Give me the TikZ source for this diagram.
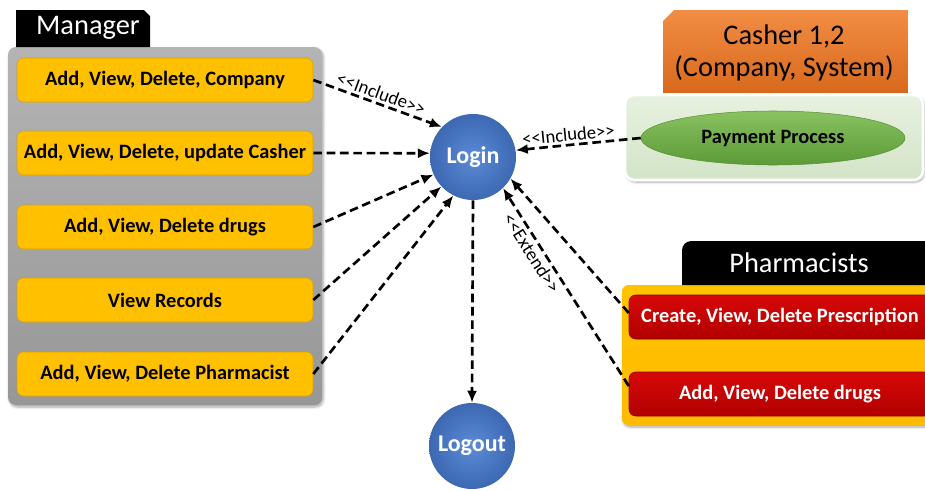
\documentclass[tikz,border=0pt]{standalone}
\usepackage{fontspec}
\setmainfont{Carlito}
% plain family for the stereotype labels, so that << and >> stay as typed
\newfontfamily\stereofont{Carlito}[Ligatures=TeXOff]
\usetikzlibrary{arrows.meta,shadows.blur,shapes.geometric}

\definecolor{panelTop}{HTML}{B4B4B4}
\definecolor{panelBot}{HTML}{979797}
\definecolor{amber}{HTML}{FFC000}
\definecolor{amberEdge}{HTML}{D9A300}
\definecolor{blueIn}{HTML}{5B8BD7}
\definecolor{blueOut}{HTML}{3D68B2}
\definecolor{orangeTop}{HTML}{F18D44}
\definecolor{orangeBot}{HTML}{D8691C}
\definecolor{mintTop}{HTML}{E7F1E0}
\definecolor{mintBot}{HTML}{D3E4C8}
\definecolor{leafTop}{HTML}{8AC260}
\definecolor{leafBot}{HTML}{5C9A38}
\definecolor{leafEdge}{HTML}{5A9236}
\definecolor{redTop}{HTML}{D80808}
\definecolor{redBot}{HTML}{B00000}
\definecolor{redEdge}{HTML}{8C0000}

\begin{document}
\begin{tikzpicture}[x=0.75pt,y=-0.75pt,
  softshadow/.style={blur shadow={shadow blur steps=6,shadow xshift=1pt,shadow yshift=-1.5pt,shadow opacity=35}},
  mgrbox/.style={draw=amberEdge,fill=amber,rounded corners=5pt,minimum width=222pt,minimum height=33pt,
    inner sep=0pt,font=\fontsize{15.3}{18}\selectfont\bfseries,text=black},
  redbox/.style={draw=redEdge,top color=redTop,bottom color=redBot,rounded corners=5pt,minimum width=226.5pt,
    minimum height=33pt,inner sep=0pt,font=\fontsize{15.3}{18}\selectfont\bfseries,text=white},
  usecase/.style={circle,inner sep=0pt,minimum size=64.5pt,shading=radial,inner color=blueIn,outer color=blueOut,
    font=\fontsize{18}{21}\selectfont\bfseries,text=white},
  header/.style={font=\fontsize{21.3}{25}\selectfont},
  dep/.style={line width=2pt,dash pattern=on 6.5pt off 3.5pt,-{Latex[length=9pt,width=7.5pt]}},
  deplabel/.style={font=\stereofont\fontsize{14}{16}\selectfont,inner sep=2pt}]

\useasboundingbox (0,0) rectangle (925,490);

% ---------- Manager group ----------
\path[softshadow,rounded corners=6pt,top color=panelTop,bottom color=panelBot] (8,47) rectangle (322,405);
\fill[black] (16,10) -- (144,10) -- (150,16) -- (150,47) -- (16,47) -- cycle;
\node[header,text=white] (mgrtitle) at (88,28) {Manager};

\node[mgrbox] (m1) at (165,80)  {Add, View, Delete, Company};
\node[mgrbox] (m2) at (165,153) {Add, View, Delete, update Casher};
\node[mgrbox] (m3) at (165,227) {Add, View, Delete drugs};
\node[mgrbox] (m4) at (165,300) {View Records};
\node[mgrbox] (m5) at (165,374) {Add, View, Delete Pharmacist};

% ---------- Casher group ----------
\path[top color=orangeTop,bottom color=orangeBot]
  (674,10) -- (908,10) -- (908,93) -- (663,93) -- (663,21) -- cycle;
\node[header,align=center,text=black] (cashtitle) at (784,53) {Casher 1,2\\[-1pt](Company, System)};

\path[softshadow,rounded corners=7pt,top color=mintTop,bottom color=mintBot,draw=white,line width=2pt]
  (625,95) rectangle (923,180);
\node[ellipse,draw=leafEdge,top color=leafTop,bottom color=leafBot,minimum width=198pt,minimum height=40.5pt,
  inner sep=0pt,font=\fontsize{15.3}{18}\selectfont\bfseries] (pay) at (773,138) {Payment Process};

% ---------- Pharmacists group ----------
\path[softshadow,rounded corners=5pt,top color=amber!95!yellow,bottom color=amber!92!orange] (622,285) rectangle (940,425);
\fill[black] (682,285) {[rounded corners=7pt] -- (682,241) -- (720,241)} -- (940,241) -- (940,285) -- cycle;
\node[header,text=white] (phtitle) at (799,263) {Pharmacists};

\node[redbox] (p1) at (780,317) {Create, View, Delete Prescription};
\node[redbox] (p2) at (780,394) {Add, View, Delete drugs};

% ---------- Use cases ----------
\node[usecase] (login)  at (473,157) {Login};
\node[usecase] (logout) at (472,446) {Logout};

% ---------- Relations ----------
\draw[dep] (m1.east) -- node[deplabel,sloped,above,pos=0.5] {<<Include>>} (login.136);
\draw[dep] (m2.east) -- (login.175);
\draw[dep] (m3.east) -- (login.204);
\draw[dep] (m4.east) -- (login.223);
\draw[dep] (m5.east) -- (login.243);
\draw[dep] (pay.west) -- node[deplabel,sloped,above,pos=0.57] {<<Include>>} (login.9);
\draw[dep] ([yshift=3pt]p1.west) -- (login.-30);
\draw[dep] ([yshift=6pt]p2.west) -- node[deplabel,sloped,below,pos=0.7] {<<Extend>>} (login.-46);
\draw[dep] (login.south) -- (logout.north);

\end{tikzpicture}
\end{document}
